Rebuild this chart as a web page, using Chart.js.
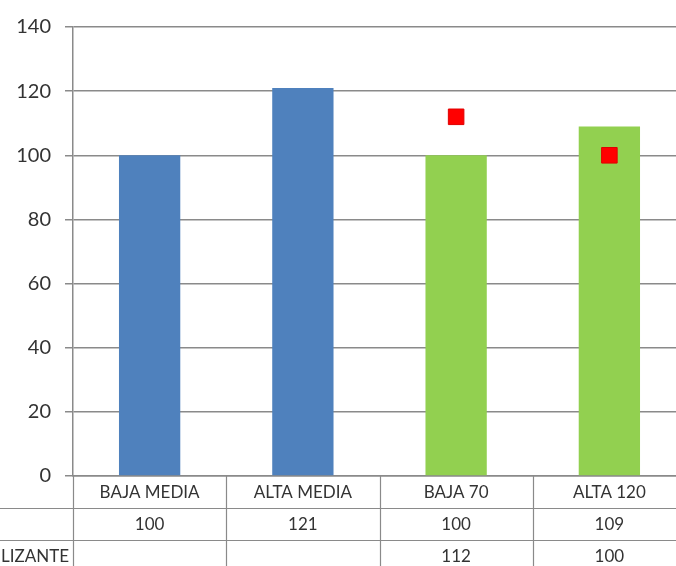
<!DOCTYPE html>
<html>
<head>
<meta charset="utf-8">
<script src="https://cdn.jsdelivr.net/npm/chart.js@4.4.1/dist/chart.umd.min.js"></script>
<style>
  html, body { margin: 0; padding: 0; background: #fff; overflow: hidden; }
  #wrap { width: 676px; height: 566px; overflow: hidden; }
  #wrap div { width: 698px; height: 566px; }
</style>
</head>
<body>
<div id="wrap"><div><canvas id="barChart"></canvas></div></div>
<script>
// datos
const categorias = ['BAJA MEDIA', 'ALTA MEDIA', 'BAJA 70', 'ALTA 120'];
const valoresBarras = [100, 121, 100, 109];
const valoresFertilizante = [null, null, 112, 100];
const coloresBarras = ['#4F81BD', '#4F81BD', '#92D050', '#92D050'];
const etiquetaSerie1 = '';
const etiquetaSerie2 = 'FERTILIZANTE';
const yTicks = [0, 20, 40, 60, 80, 100, 120, 140];

const lineColor = '#8a8a8a';
const textColor = '#333333';
const fontFam = "Lato, 'Open Sans', sans-serif";

// tabla de datos debajo del eje
const tablaDatos = {
    id: 'tablaDatos',
    afterDraw(chart) {
        const ctx = chart.ctx;
        const x = chart.scales.x;
        const area = chart.chartArea;
        const rowH = 32;
        const y0 = area.bottom;
        const w = chart.width;
        const step = x.getPixelForValue(1) - x.getPixelForValue(0);
        ctx.save();
        ctx.strokeStyle = lineColor;
        ctx.lineWidth = 1.2;
        ctx.beginPath();
        ctx.moveTo(0, y0 + rowH + 0.5); ctx.lineTo(w, y0 + rowH + 0.5);
        ctx.moveTo(0, y0 + rowH * 2 + 0.5); ctx.lineTo(w, y0 + rowH * 2 + 0.5);
        for (let i = 0; i <= categorias.length; i++) {
            const px = Math.round(x.getPixelForValue(i) - step / 2) + 0.5;
            ctx.moveTo(px, y0); ctx.lineTo(px, chart.height);
        }
        ctx.stroke();

        ctx.fillStyle = textColor;
        ctx.font = '17px ' + fontFam;
        ctx.textBaseline = 'middle';
        ctx.textAlign = 'center';
        categorias.forEach((c, i) => {
            const px = x.getPixelForValue(i);
            ctx.fillText(c, px, y0 + rowH / 2 + 1);
            if (valoresBarras[i] != null) ctx.fillText(String(valoresBarras[i]), px, y0 + rowH * 1.5 + 1);
            if (valoresFertilizante[i] != null) ctx.fillText(String(valoresFertilizante[i]), px, y0 + rowH * 2.5 + 1);
        });
        ctx.textAlign = 'right';
        ctx.fillText(etiquetaSerie1, area.left - 4, y0 + rowH * 1.5 + 1);
        ctx.fillText(etiquetaSerie2, area.left - 4, y0 + rowH * 2.5 + 1);
        ctx.restore();
    }
};

const ctxBar = document.getElementById('barChart').getContext('2d');
const barChart = new Chart(ctxBar, {
    type: 'bar',
    data: {
        labels: categorias,
        datasets: [{
            type: 'line',
            label: etiquetaSerie2,
            data: valoresFertilizante,
            showLine: false,
            pointStyle: 'rect',
            pointRadius: 11,
            pointBackgroundColor: '#FF0000',
            pointBorderColor: '#E00000',
            pointBorderWidth: 1,
            order: 0
        }, {
            label: etiquetaSerie1,
            data: valoresBarras,
            backgroundColor: coloresBarras,
            borderWidth: 0,
            categoryPercentage: 1,
            barPercentage: 0.4,
            order: 1
        }]
    },
    plugins: [tablaDatos],
    options: {
        responsive: true,
        maintainAspectRatio: false,
        animation: false,
        layout: { padding: { top: 27, right: 1, left: 0, bottom: 0 } },
        scales: {
            y: {
                min: 0,
                max: 140,
                afterBuildTicks: (scale) => { scale.ticks = yTicks.map(v => ({ value: v })); },
                afterFit: (scale) => { scale.width = 73; },
                border: { display: true, color: lineColor, width: 1.5 },
                grid: { color: lineColor, lineWidth: 1.5, tickLength: 8 },
                ticks: {
                    color: textColor,
                    padding: 14,
                    font: { size: 20, family: fontFam }
                }
            },
            x: {
                afterFit: (scale) => { scale.height = 90; },
                border: { display: true, color: lineColor, width: 1.5 },
                grid: { display: false },
                ticks: { display: false }
            }
        },
        plugins: {
            legend: { display: false },
            tooltip: { enabled: false }
        }
    }
});
</script>
</body>
</html>
